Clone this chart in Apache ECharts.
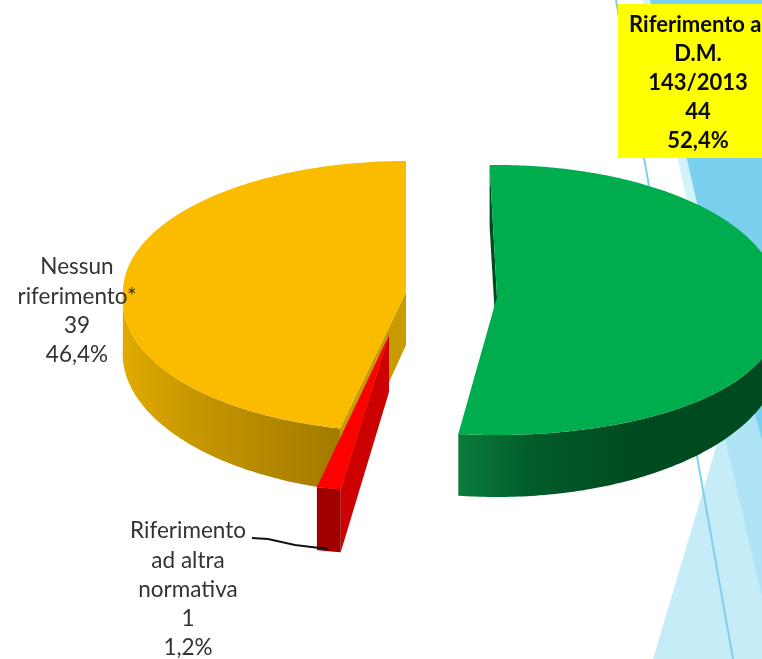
<!DOCTYPE html>
<html><head><meta charset="utf-8">
<style>html,body{margin:0;padding:0;background:#fff;overflow:hidden}#c{width:762px;height:659px}</style>
<script src="https://cdn.jsdelivr.net/npm/echarts@6/dist/echarts.min.js"></script>
</head><body><div id="c"></div>
<script>
// Data
const categories = ['Riferimento al D.M. 143/2013', 'Nessun riferimento*', 'Riferimento ad altra normativa'];
const values = [44, 39, 1];
const percents = ['52,4%', '46,4%', '1,2%'];
const nameLines = [['Riferimento al', 'D.M.', '143/2013'], ['Nessun', 'riferimento*'], ['Riferimento', 'ad altra', 'normativa']];
const clockwiseOrder = [0, 2, 1];

// Presentation only
const pieces = [
  {cx:497, cy:297, rx:281, ryT:132, ryB:138, kx:.12, rot:-1.5, depth:62, depthIn:55, taper:.31,
   top:'#00AD4E', cut:'#004A20', x0:460, x1:640, stops:['#0B7C3B','#005C29','#004A20'],
   lx:698, ly:25, lh:29, bold:true, color:'#0a0a0a', size:22},
  {cx:406, cy:292, rx:283, ryT:131, ryB:140, kx:.05, rot:0, depth:62, depthIn:53, taper:.12,
   top:'#FBBC00', cut:'#C89B00', x0:123, x1:340, stops:['#E0AA00','#C39300','#A27A00'],
   lx:77, ly:267, lh:29.3, bold:false, color:'#333', size:22.5},
  {cx:389, cy:335, rx:324, ryT:156, ryB:156, kx:0, rot:0, depth:63, depthIn:57, taper:0,
   top:'#FF0000', cut:'#CC0000', x0:310, x1:345, stops:['#A00000','#A00000','#A00000'],
   lx:188, ly:531, lh:29.3, bold:false, color:'#333', size:22.5}
];
const FONT = 'Lato, "Open Sans", sans-serif';
const total = values.reduce((a, b) => a + b, 0);
const starts = [];
clockwiseOrder.reduce((sum, i) => { starts[i] = sum / total * 360; return sum + values[i]; }, 0);

function pt(p, deg) {
  const a = (deg + p.rot) * Math.PI / 180, u = Math.sin(a), v = -Math.cos(a);
  return {
    x: p.cx + p.rx * u * (1 + p.kx * Math.max(v, 0)),
    y: p.cy + v * (v < 0 ? p.ryT : p.ryB),
    u
  };
}
const drop = (p, q) => q.y + p.depth * (1 - p.taper * q.u * q.u);

function renderItem(params, api) {
  const i = params.dataIndex, p = pieces[i], value = api.value(0);
  const a0 = starts[i], a1 = a0 + value / total * 360;
  const arc = [];
  for (let t = 0; t <= 240; t++) arc.push(a0 + (a1 - a0) * t / 240);
  const apex = [p.cx, p.cy];
  const q0 = pt(p, a0);
  const kids = [];

  // cut wall at the start of the slice
  kids.push({type:'polygon', shape:{points:[apex, [p.cx, p.cy + p.depthIn], [q0.x, drop(p, q0)], [q0.x, q0.y]]},
    style:{fill:p.cut}});

  // outer wall (front half only)
  const front = arc.filter(d => { const v = -Math.cos((d + p.rot) * Math.PI / 180); return v >= 0; }).map(d => pt(p, d));
  if (front.length > 1) {
    const pts = front.map(q => [q.x, q.y]).concat(front.slice().reverse().map(q => [q.x, drop(p, q)]));
    kids.push({type:'polygon', shape:{points:pts}, style:{
      fill:new echarts.graphic.LinearGradient(p.x0, 0, p.x1, 0, [
        {offset:0, color:p.stops[0]}, {offset:.4, color:p.stops[1]}, {offset:1, color:p.stops[2]}], true)}});
  }
  // top face
  kids.push({type:'polygon', shape:{points:[apex].concat(arc.map(d => { const q = pt(p, d); return [q.x, q.y]; }))},
    style:{fill:p.top}});
  return {type:'group', children:kids};
}

function renderLabels(params, api) {
  const i = params.dataIndex, p = pieces[i];
  const lines = nameLines[i].concat([String(api.value(0)), percents[i]]);
  const kids = [];
  if (p.bold) kids.push({type:'rect', shape:{x:618, y:4, width:144, height:154}, style:{fill:'#FFFF00'}});
  lines.forEach((t, n) => kids.push({type:'text', style:{
    text:t, x:p.lx, y:p.ly + n * p.lh, textAlign:'center', textVerticalAlign:'middle',
    font:(p.bold ? 'bold ' : '') + p.size + 'px ' + FONT, fill:p.color}}));
  if (i === 2) kids.push({type:'polyline', shape:{points:[[252,538],[268,539],[295,545],[328,549]]},
    style:{fill:'none', stroke:'#111', lineWidth:2}});
  return {type:'group', children:kids};
}

const decor = [
  {pts:[[730,400],[653,659],[762,659],[762,400]], fill:'#C6ECF8'},
  {pts:[[716,400],[762,597],[762,400]], fill:'#AEE4F5'},
  {pts:[[643,0],[686,197],[700,215],[650,0]], fill:'#D5F1FA'},
  {pts:[[650,0],[762,0],[762,440],[697,203]], fill:'#7BD0EF'}
];
const chart = echarts.init(document.getElementById('c'), null, {renderer:'canvas'});
chart.setOption({
  animation:false,
  backgroundColor:'#fff',
  graphic:{elements:decor.map(d => ({type:'polygon', silent:true, z:0, shape:{points:d.pts}, style:{fill:d.fill}}))
    .concat([{type:'line', silent:true, z:0, shape:{x1:616, y1:0, x2:733, y2:659}, style:{stroke:'#7FD1F0', lineWidth:2}}])},
  series:[
    {type:'custom', coordinateSystem:'none', z:2, silent:true, name:'Riferimenti', data:values.map((v, i) => ({name:categories[i], value:[v]})), renderItem},
    {type:'custom', coordinateSystem:'none', z:3, silent:true, name:'Etichette', data:values.map((v, i) => ({name:categories[i], value:[v]})), renderItem:renderLabels}
  ]
});
</script></body></html>
